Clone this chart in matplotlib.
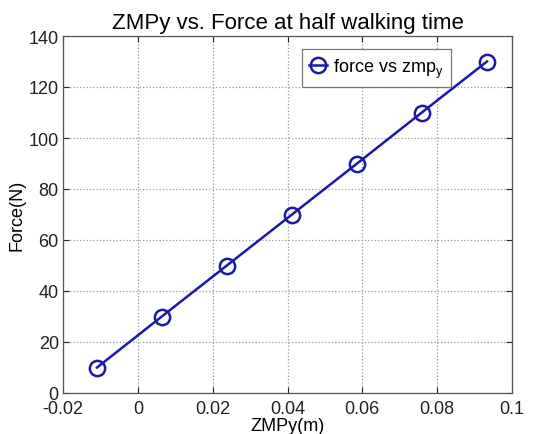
import matplotlib
matplotlib.use("Agg")
import matplotlib.pyplot as plt

plt.rcParams['font.family'] = ['Liberation Sans', 'DejaVu Sans']

# data
zmp_y = [-0.0109, 0.0064, 0.0238, 0.0412, 0.0586, 0.0759, 0.0933]
force = [10, 30, 50, 70, 90, 110, 130]

x_ticks = [-0.02, 0, 0.02, 0.04, 0.06, 0.08, 0.1]
x_labels = ["-0.02", "0", "0.02", "0.04", "0.06", "0.08", "0.1"]
y_ticks = [0, 20, 40, 60, 80, 100, 120, 140]

fig = plt.figure(figsize=(5.42, 4.35), dpi=100)
ax = fig.add_axes([63 / 542, 1 - 394 / 435, 449 / 542, 357 / 435])

ax.plot(zmp_y, force, color="#1a1aaa", linewidth=1.8, marker="o",
        markersize=11, markerfacecolor="none", markeredgewidth=1.8,
        label="force vs zmp$_\\mathregular{y}$")

ax.set_xlim(-0.02, 0.1)
ax.set_ylim(0, 140)
ax.set_xticks(x_ticks)
ax.set_xticklabels(x_labels)
ax.set_yticks(y_ticks)
ax.tick_params(direction="in", top=True, right=True, labelsize=13, length=4,
               colors="#222222", pad=3)
ax.tick_params(axis="x", pad=5)
ax.grid(True, linestyle=":", color="#999999", linewidth=0.9)
for s in ax.spines.values():
    s.set_color("#555555")
    s.set_linewidth(0.9)

ax.set_title("ZMPy vs. Force at half walking time", fontsize=16, pad=6)
ax.set_xlabel("ZMPy(m)", fontsize=13, labelpad=0)
ax.set_ylabel("Force(N)", fontsize=13, labelpad=2)

leg = ax.legend(loc="upper right", bbox_to_anchor=(0.864, 0.964), fontsize=13,
                borderaxespad=0, fancybox=False, framealpha=1,
                edgecolor="#777777", handlelength=1.0, handletextpad=0.3,
                borderpad=0.42, markerscale=1.0)
leg.get_frame().set_linewidth(0.9)

fig.savefig("out.png", dpi=100)
